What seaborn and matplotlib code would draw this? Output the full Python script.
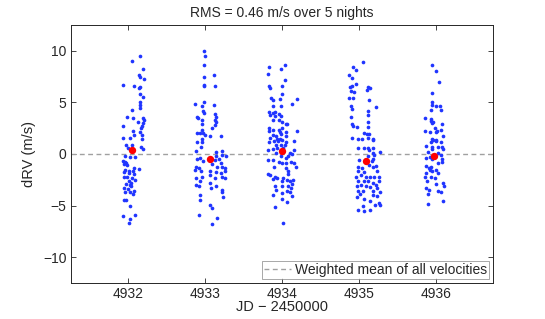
import numpy as np
import pandas as pd
import matplotlib
matplotlib.use("Agg")
import matplotlib.pyplot as plt
import seaborn as sns

# Night reference dates (JD - 2450000)
nights = [4932, 4933, 4934, 4935, 4936]

# Per-night observation offsets (days from night reference) and dRV values (m/s)
off1 = [0.149, 0.05, 0.188, 0.132, 0.145, 0.20, -0.076, 0.071, 0.154, 0.132, 0.145, 0.193,
        0.145, 0.149, 0.149, 0.05, 0.184, -0.015, 0.058, 0.20, 0.123, 0.184, 0.18, -0.076,
        0.167, 0.058, 0.154, 0.071, 0.18, -0.076, 0.024, 0.175,
        -0.028, 0.046, 0.167, -0.006, 0.184, -0.041, 0.024, 0.08, -0.071, -0.05, -0.028,
        -0.063, -0.015, 0.071, 0.136, -0.041, 0.002, 0.054, -0.058, 0.011, 0.071, -0.063,
        -0.024, 0.046, 0.08, 0.002, 0.028, -0.028, 0.02, 0.037, -0.058, -0.006, 0.071,
        -0.041, 0.015, 0.063, -0.058, -0.028, 0.024, -0.067, 0.08, 0.024, 0.006]
drv1 = [9.49, 8.98, 8.27, 7.63, 7.46, 7.21, 6.72, 6.6, 6.5, 6.34, 5.76, 5.53,
        5.05, 4.73, 4.47, 4.21, 3.5, 3.6, 3.44, 3.28, 3.12, 2.96, 2.7, 2.67,
        2.48, 2.25, 2.16, 1.83, 1.83, 1.58, 1.54, 1.45,
        0.87, 0.87, 0.68, 0.61, 0.48, -0.16, -0.26, -0.29, -0.68, -0.74, -0.87,
        -0.99, -1.06, -1.32, -1.45, -1.58, -1.64, -1.64, -1.77, -1.87, -1.96, -2.19,
        -2.22, -2.35, -2.51, -2.67, -2.83, -2.93, -2.99, -3.15, -3.31, -3.41, -3.57,
        -3.7, -3.7, -3.89, -4.44, -4.44, -5.08, -6.05, -5.96, -6.28, -6.69]

off2 = [-0.017, -0.004, -0.013, 0.117, -0.022, -0.013, -0.017, 0.121, -0.134, -0.047,
        -0.017, 0.117, -0.026, -0.017, -0.104, -0.095, -0.039, 0.125, 0.134, 0.121,
        0.134, 0.125, -0.047, 0.082, -0.039, -0.104, -0.074, -0.03, -0.009, 0.065,
        0.20, -0.039,
        -0.113, -0.039, -0.056, -0.126, 0.143, 0.212, 0.22, 0.264, 0.134, -0.074,
        -0.104, -0.03, 0.125, 0.177, 0.199, 0.082, 0.156, -0.117, -0.082, -0.134,
        -0.061, 0.056, 0.22, 0.255, 0.255, 0.134, 0.199, -0.117, 0.056, 0.125,
        -0.047, 0.212, 0.255, -0.074, 0.056, -0.126, -0.082, 0.143, 0.069, 0.212,
        0.22, 0.229, -0.074, -0.074, 0.056, 0.082, -0.082, 0.147, 0.082]
drv2 = [9.94, 9.46, 8.59, 7.69, 7.46, 6.72, 6.56, 6.56, 4.8, 4.67,
        4.99, 4.73, 4.15, 3.92, 3.6, 3.44, 3.28, 3.83, 3.6, 3.28,
        3.06, 2.8, 2.86, 2.54, 2.32, 2.0, 2.0, 2.0, 1.83, 1.77,
        1.71, 1.45,
        1.19, 1.19, 0.71, 0.29, 0.16, 0.29, -0.1, -0.16, -0.16, -0.42,
        -0.48, -0.64, -0.58, -0.48, -0.9, -1.0, -1.22, -1.22, -1.38, -1.54,
        -1.64, -1.64, -1.22, -1.38, -1.7, -1.77, -1.87, -2.35, -2.09, -2.35,
        -2.28, -2.28, -2.35, -2.67, -2.83, -2.99, -3.15, -3.15, -3.31, -3.47,
        -3.7, -4.21, -4.02, -4.44, -4.92, -5.24, -5.95, -6.2, -6.79]

off3 = [-0.175, -0.015, 0.045, -0.18, 0.041, -0.166, -0.158, -0.006, -0.006, -0.149,
        -0.114, -0.028, 0.197, 0.136, -0.123, -0.019, -0.166, -0.114, -0.093, -0.158,
        -0.093, -0.036, -0.019, -0.114, -0.036, -0.006, 0.05, 0.067, 0.006, -0.175,
        -0.175, -0.114, -0.036, -0.028, -0.019, 0.05, 0.197, -0.114, -0.08, 0.05,
        -0.158, -0.071, -0.028,
        -0.167, -0.106, -0.05, 0.006, 0.154, 0.058, -0.08, -0.019, 0.037, -0.18,
        -0.123, -0.071, 0.015, 0.154, -0.08, 0.102, 0.136, -0.019, 0.08, 0.058,
        -0.18, -0.114, -0.036, 0.006, 0.05, 0.123, 0.154, 0.18, -0.106, 0.058,
        0.08, 0.08, -0.18, -0.158, -0.093, -0.114, -0.071, 0.015, 0.067, 0.102,
        0.145, 0.006, -0.093, -0.08, -0.006, 0.08, 0.123, 0.136, 0.067, 0.006,
        0.102, 0.136, -0.123, 0.006, 0.067, -0.093, 0.015]
drv3 = [8.43, 8.27, 8.59, 7.79, 7.17, 6.6, 6.43, 6.6, 5.76, 5.43,
        5.21, 5.31, 5.31, 4.8, 4.67, 4.67, 4.09, 3.92, 4.02, 3.76,
        3.7, 3.83, 3.7, 3.28, 3.28, 3.12, 2.93, 2.93, 2.54, 2.48,
        2.22, 2.32, 2.32, 2.09, 1.9, 2.16, 2.22, 1.83, 1.77, 1.71,
        1.51, 1.45, 1.45,
        1.19, 1.26, 1.26, 1.35, 1.26, 1.13, 0.87, 0.87, 0.87, 0.39,
        0.48, 0.55, 0.61, 0.39, 0.06, 0.06, -0.03, -0.16, -0.16, -0.42,
        -0.58, -0.58, -0.8, -0.9, -0.9, -0.74, -0.9, -1.22, -1.22, -1.38,
        -1.64, -1.96, -1.96, -2.09, -2.19, -2.41, -2.35, -2.35, -2.51, -2.67,
        -2.51, -2.67, -3.15, -3.47, -3.15, -3.15, -3.31, -2.93, -3.64, -3.8,
        -3.7, -4.12, -3.96, -4.34, -4.67, -5.18, -6.69]

off4 = [0.052, -0.082, -0.039, -0.126, -0.091, -0.039, -0.095, -0.113, -0.104, -0.069,
        0.121, 0.139, 0.104, -0.126, -0.082, 0.134, 0.221, -0.104, -0.095, 0.113,
        0.121, -0.104, -0.095, -0.082, -0.026, 0.121, 0.121, 0.061, 0.104, 0.134,
        0.121, -0.095, -0.017, 0.035, 0.19,
        0.178, -0.009, 0.069, 0.121, 0.134, 0.19, 0.277, 0.178, 0.2, 0.121,
        0.004, 0.165, 0.19, -0.017, 0.035, 0.134, 0.178, 0.221, -0.017, 0.069,
        0.242, -0.039, 0.026, 0.091, 0.147, 0.2, 0.264, -0.009, 0.061, 0.121,
        0.178, 0.221, 0.264, -0.026, 0.026, 0.091, 0.147, 0.242, -0.017, 0.048,
        0.19, 0.277, 0.017, -0.026, 0.19, 0.234, 0.069, 0.147, 0.264, 0.208,
        0.277, -0.017, 0.056, 0.069, 0.147]
drv4 = [8.91, 8.4, 8.17, 7.69, 7.4, 6.82, 6.6, 6.5, 6.08, 5.95,
        6.5, 6.34, 6.18, 5.37, 5.37, 5.21, 4.57, 4.67, 4.35, 4.15,
        3.76, 3.6, 2.86, 2.73, 2.6, 3.06, 2.64, 2.0, 1.9, 1.9,
        1.58, 1.51, 1.45, 1.42, 1.42,
        1.35, 0.61, 0.61, 0.55, 0.39, 0.61, 0.16, 0.06, -0.1, -0.16,
        -0.58, -0.68, -0.48, -1.22, -1.38, -1.06, -1.22, -1.13, -1.64, -1.77,
        -1.64, -2.19, -2.03, -2.19, -2.19, -2.28, -2.28, -2.6, -2.67, -2.67,
        -2.83, -2.99, -2.67, -3.15, -2.99, -3.15, -3.25, -3.31, -3.64, -3.57,
        -3.57, -3.7, -3.89, -4.21, -4.02, -4.12, -4.34, -4.54, -4.76, -4.99,
        -4.92, -5.4, -5.08, -5.57, -5.4]

off5 = [-0.048, 0.004, 0.039, -0.043, -0.043, -0.048, 0.004, 0.056, -0.065, 0.074,
        -0.134, -0.065, -0.056, -0.035, -0.048, 0.082, -0.004, -0.134, -0.078, 0.009,
        0.022, 0.074, 0.095, -0.048, 0.009,
        -0.035, 0.009, -0.065, 0.074, -0.121, -0.048, 0.03, 0.082, -0.048, 0.095,
        -0.1, 0.03, 0.074, -0.121, -0.078, -0.048, 0.082, 0.082, 0.03, -0.121,
        -0.091, -0.056, -0.078, -0.121, -0.048, 0.009, 0.03, -0.143, -0.056, -0.013,
        -0.108, 0.009, 0.095, 0.108, -0.121, -0.091, 0.03, 0.065, -0.104, 0.095,
        -0.104]
drv5 = [8.59, 8.01, 6.98, 5.92, 5.05, 4.73, 4.67, 4.6, 4.21, 4.21,
        3.5, 3.38, 3.18, 3.06, 2.96, 2.86, 2.54, 2.22, 2.09, 2.09,
        2.2, 2.32, 1.77, 1.45, 1.39,
        1.35, 1.26, 1.19, 1.13, 0.8, 0.71, 0.71, 0.71, 0.48, 0.48,
        0.22, 0.06, -0.1, -0.42, -0.26, -0.48, -0.48, -0.74, -0.9, -1.13,
        -1.32, -1.22, -1.54, -1.87, -1.7, -1.54, -1.87, -2.19, -2.28, -2.35,
        -2.67, -2.93, -2.83, -3.15, -3.31, -3.47, -3.64, -3.7, -3.89, -4.6,
        -4.86]

# Nightly weighted means
mean_off = [0.045, 0.065, -0.006, 0.091, -0.022]
mean_drv = [0.4, -0.5, 0.3, -0.7, -0.2]

weighted_mean = 0.0
title = "RMS = 0.46 m/s over 5 nights"

offsets = [off1, off2, off3, off4, off5]
values = [drv1, drv2, drv3, drv4, drv5]
parts = []
for n, o, v in zip(nights, offsets, values):
    parts.append(pd.DataFrame({"jd": np.asarray(o) + n, "drv": v}))
df = pd.concat(parts, ignore_index=True)
means = pd.DataFrame({"jd": np.asarray(mean_off) + np.asarray(nights), "drv": mean_drv})

sns.set_style("ticks")
plt.rcParams["font.family"] = ["Liberation Sans", "DejaVu Sans"]
plt.rcParams["xtick.direction"] = "in"
plt.rcParams["ytick.direction"] = "in"

fig = plt.figure(figsize=(5.45, 3.19), dpi=100)
ax = fig.add_axes([0.130, 0.113, 0.775, 0.809])

ax.axhline(weighted_mean, color="#a0a0a0", linestyle="--", linewidth=1.0,
           dashes=(3.5, 2.5), label="Weighted mean of all velocities", zorder=1)
sns.scatterplot(data=df, x="jd", y="drv", color="#2035ff", s=7, linewidth=0,
                ax=ax, zorder=2, legend=False)
sns.scatterplot(data=means, x="jd", y="drv", color="#ff0000", s=28, linewidth=0,
                ax=ax, zorder=3, legend=False)

ax.set_xlim(4931.25, 4936.75)
ax.set_ylim(-12.5, 12.5)
ax.set_xticks(nights)
ax.set_yticks([-10, -5, 0, 5, 10])
ax.tick_params(labelsize=10, length=3.5, width=0.6, top=True, right=True, pad=3)
for sp in ax.spines.values():
    sp.set_linewidth(0.7)
ax.set_xlabel("JD \u2212 2450000", fontsize=10.5, labelpad=-1)
ax.set_ylabel("dRV (m/s)", fontsize=10.5, labelpad=5)
ax.set_title(title, fontsize=10, pad=6)

leg = ax.legend(loc="lower right", fontsize=10, frameon=True, fancybox=False,
                borderaxespad=0.3, handlelength=2.0, borderpad=0.15,
                handletextpad=0.25)
leg.get_frame().set_edgecolor("#808080")
leg.get_frame().set_linewidth(0.6)

fig.savefig("out.png", dpi=100)
